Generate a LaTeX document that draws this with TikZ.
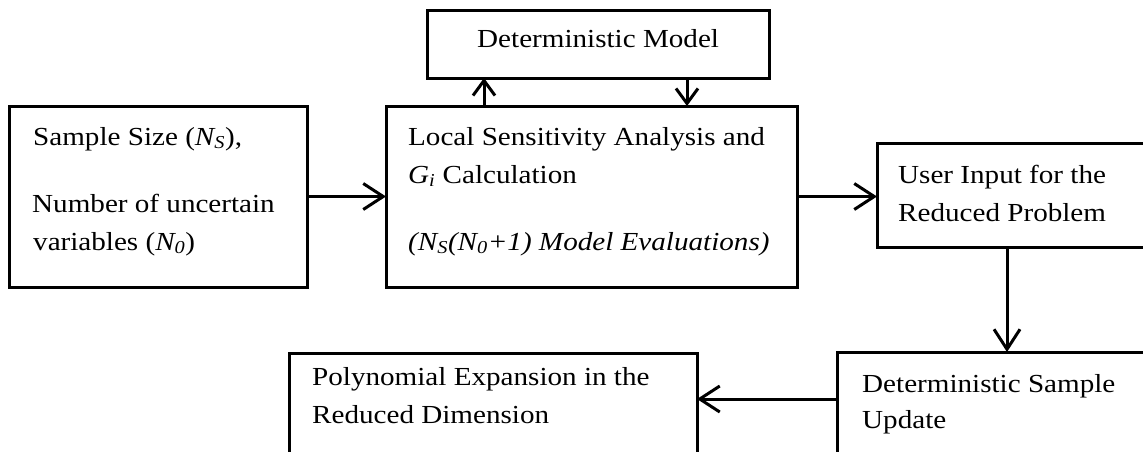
\documentclass[tikz,border=0pt]{standalone}
\usepackage{fontspec}
\setmainfont{Liberation Serif}[FakeStretch=1.12]
\usetikzlibrary{arrows.meta}
\begin{document}
\begin{tikzpicture}[x=1pt,y=-1pt,
  box/.style={draw, line width=3pt, rectangle, outer sep=0pt, inner sep=0pt},
  txt/.style={anchor=base west, inner sep=0pt, font=\fontsize{26}{38}\selectfont},
  arr/.style={line width=3pt, -{Straight Barb[length=20pt, width=26pt]}},
  sarr/.style={line width=3pt, -{Straight Barb[length=15pt, width=22pt]}}]
\useasboundingbox (0,0) rectangle (1143,451);
\clip (0,0) rectangle (1143,451);
\fill[white] (0,0) rectangle (1143,451);
% boxes
\node[box, minimum width=298pt, minimum height=181pt] (in) at (158,196.5) {};
\node[box, minimum width=411pt, minimum height=181pt] (lsa) at (591.5,196.5) {};
\node[box, minimum width=342pt, minimum height=68pt] (dm) at (598,44) {};
\node[box, minimum width=271pt, minimum height=104pt] (ui) at (1012.5,195) {};
\node[box, minimum width=311pt, minimum height=108pt] (ds) at (992.5,406) {};
\node[box, minimum width=408pt, minimum height=107pt] (pe) at (493,406.5) {};
% texts
\node[txt] (t1) at (33,145) {Sample Size (\textit{N\textsubscript{S}}),};
\node[txt] (t2) at (32,212) {Number of uncertain};
\node[txt] (t3) at (33,250) {variables (\textit{N\textsubscript{0}})};
\node[txt] (t4) at (408,145) {Local Sensitivity Analysis and};
\node[txt] (t5) at (408,183) {\textit{G\textsubscript{i}} Calculation};
\node[txt] (t6) at (408,250) {\textit{(N\textsubscript{S}(N\textsubscript{0}+1) Model Evaluations)}};
\node[txt] (t7) at (477,47) {Deterministic Model};
\node[txt] (t8) at (898,183) {User Input for the};
\node[txt] (t9) at (898,221) {Reduced Problem};
\node[txt] (t10) at (862,392) {Deterministic Sample};
\node[txt] (t11) at (862,428) {Update};
\node[txt] (t12) at (312,385) {Polynomial Expansion in the};
\node[txt] (t13) at (312,423) {Reduced Dimension};
% connectors
\coordinate (upx) at (484,0);
\coordinate (dnx) at (687,0);
\coordinate (vx) at (1007,0);
\coordinate (hy) at (0,399);
\draw[arr] (in.east) -- (lsa.west);
\draw[arr] (lsa.east) -- (lsa.east -| ui.west);
\draw[sarr] (lsa.north -| upx) -- (dm.south -| upx);
\draw[sarr] (dm.south -| dnx) -- (lsa.north -| dnx);
\draw[arr] (ui.south -| vx) -- (ds.north -| vx);
\draw[arr] (ds.west |- hy) -- (pe.east |- hy);
\end{tikzpicture}
\end{document}
